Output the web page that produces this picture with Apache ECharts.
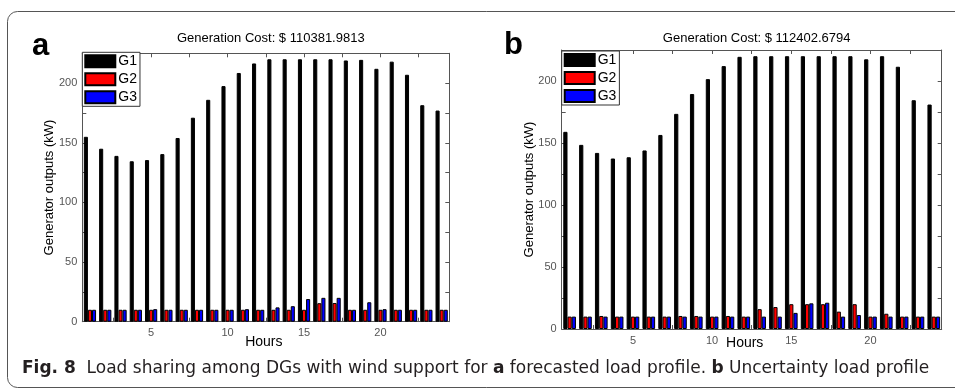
<!DOCTYPE html>
<html><head><meta charset="utf-8">
<script src="https://cdn.jsdelivr.net/npm/echarts@6/dist/echarts.min.js"></script>
<style>html,body{margin:0;padding:0;background:#fff}#c{width:955px;height:392px}</style>
</head><body><div id="c"></div>
<script>
// ---- data ----
const hours = ['1','2','3','4','5','6','7','8','9','10','11','12','13','14','15','16','17','18','19','20','21','22','23','24'];
const seriesNames = ['G1','G2','G3'];
const g1a = [155,145,139,134.5,135.5,140.5,154,171,186,197.5,208.5,216.5,220,220,220,220,220,219,219.5,212,218,207,181.5,177];
const g2a = [10,10,10,10,10,10,10,10,10,10,10,10,10,10,10,15.5,15.7,10,10,10,10,10,10,10];
const g3a = [10,10,10,10,10.5,10,10,10,10,10,10.5,10,12,13,19,20,20,10,16.3,10.5,10,10,10,10];
const g1b = [159,148.5,142,137.5,138.5,144,156.5,173.5,189.5,201.5,212,219.5,220,220,220,220,220,220,220,217.5,220,211.5,184.5,181];
const g2b = [10,10,10.5,10,10,10,10,10.5,10.5,10,10.5,10,16,17.7,20,20,20,14,20,10,12.3,10,10,10];
const g3b = [10,10,10,10,10,10,10,10,10,10,10,10,10,10,13,20.7,21.2,10,11.3,10,10,10,10,10];
const xTickLabels = [5,10,15,20];
const xTickMarks = [2.5,5,7.5,10,12.5,15,17.5,20,22.5];
const yTickLabels = [0,50,100,150,200];
const titleA = 'Generation Cost: $ 110381.9813';
const titleB = 'Generation Cost: $ 112402.6794';
const caption = 'Load sharing among DGs with wind support for';
const colors = ['#000000','#ff0000','#0000ff'];

const chart = echarts.init(document.getElementById('c'));
const grids = [
  {left:82.3, top:53.3, width:367, height:268.4, nameGap:13, nameX:-2, labelMargin:6},
  {left:561.7, top:50, width:380, height:279, nameGap:7, nameX:-7, labelMargin:6}
];
const AX = '#555';
const LBL = {color:'#555', fontSize:11, fontFamily:'Liberation Sans, Arial'};
let xAxis=[], yAxis=[], series=[], grid=[];
const dataSets = [[g1a,g2a,g3a],[g1b,g2b,g3b]];
grids.forEach((g,i)=>{
  grid.push({left:g.left, top:g.top, width:g.width, height:g.height, containLabel:false});
  // category axis for bars; carries only the axis name
  xAxis.push({type:'category', gridIndex:i, data:hours, boundaryGap:true, position:'bottom',
    name:'Hours', nameLocation:'middle', nameGap:g.nameGap, nameMoveOverlap:false,
    nameTextStyle:{color:'#000', fontSize:14, fontFamily:'Liberation Sans, Arial', padding:[0,0,0,g.nameX*2]},
    axisLine:{show:false}, axisTick:{show:false}, axisLabel:{show:false}, splitLine:{show:false}});
  xAxis.push({type:'value', gridIndex:i, min:0.5, max:24.5, position:'bottom',
    axisLine:{show:true, lineStyle:{color:AX, width:1}},
    axisTick:{show:true, inside:true, length:4, customValues:xTickMarks, lineStyle:{color:AX}},
    axisLabel:{show:true, customValues:xTickLabels, margin:g.labelMargin, ...LBL},
    splitLine:{show:false}});
  xAxis.push({type:'value', gridIndex:i, min:0.5, max:24.5, position:'top',
    axisLine:{show:true, lineStyle:{color:AX, width:1}},
    axisTick:{show:true, inside:true, length:4, customValues:xTickMarks, lineStyle:{color:AX}},
    axisLabel:{show:false}, splitLine:{show:false}});
  yAxis.push({type:'value', gridIndex:i, min:0, max:225, interval:25, position:'left',
    name:'Generator outputs (kW)', nameLocation:'middle', nameGap:26, nameRotate:90, nameMoveOverlap:false,
    nameTextStyle:{color:'#000', fontSize:13, fontFamily:'Liberation Sans, Arial'},
    axisLine:{show:true, lineStyle:{color:AX, width:1}},
    axisTick:{show:true, inside:true, length:4, lineStyle:{color:AX}},
    axisLabel:{show:true, margin:5, ...LBL, formatter:v=> yTickLabels.includes(v)?String(v):''},
    splitLine:{show:false}});
  yAxis.push({type:'value', gridIndex:i, min:0, max:225, interval:25, position:'right',
    axisLine:{show:true, lineStyle:{color:AX, width:1}},
    axisTick:{show:true, inside:true, length:4, lineStyle:{color:AX}},
    axisLabel:{show:false}, splitLine:{show:false}});
  dataSets[i].forEach((d,k)=>{
    series.push({type:'bar', name:seriesNames[k], xAxisIndex:i*3, yAxisIndex:i*2, data:d,
      barGap:'0%', barCategoryGap:'20%',
      itemStyle:{color:colors[k], borderColor:'#000', borderWidth:1},
      emphasis:{disabled:true}, silent:true, animation:false});
  });
});

const legendBase = {orient:'vertical', icon:'rect', itemWidth:30, itemHeight:12, itemGap:4,
  borderColor:'#333', borderWidth:1, backgroundColor:'#fff', padding:[2,3,2,2],
  textStyle:{color:'#000', fontSize:14, fontFamily:'Liberation Sans, Arial', padding:[0,0,0,-2]},
  data:seriesNames, selectedMode:false};

chart.setOption({
  animation:false,
  grid, xAxis, yAxis, series,
  legend:[Object.assign({}, legendBase, {left:82.3, top:52.3}),
          Object.assign({}, legendBase, {left:561.7, top:51})],
  title:[
    {text:titleA, left:265.8, top:27, textAlign:'center', textStyle:{fontSize:13, fontWeight:'normal', color:'#000', fontFamily:'Liberation Sans, Arial'}},
    {text:titleB, left:751.7, top:27, textAlign:'center', textStyle:{fontSize:13, fontWeight:'normal', color:'#000', fontFamily:'Liberation Sans, Arial'}}
  ],
  graphic:[
    {type:'rect', shape:{x:7.5, y:11.5, width:970, height:376, r:10}, style:{fill:'none', stroke:'#555', lineWidth:1}, silent:true, z:-1},
    {type:'text', left:32, top:31, style:{text:'a', font:'bold 31px "Liberation Sans", Arial', fill:'#000'}},
    {type:'text', left:504, top:30, style:{text:'b', font:'bold 31px "Liberation Sans", Arial', fill:'#000'}},
    {type:'text', left:22, top:360, style:{
      text:'{b|Fig. 8}  ' + caption + ' {b|a} forecasted load profile. {b|b} Uncertainty load profile',
      fontSize:17, fontFamily:'DejaVu Sans', fill:'#231f20',
      rich:{b:{fontWeight:'bold', fontSize:17, fontFamily:'DejaVu Sans', fill:'#231f20'}}
    }}
  ]
});
</script></body></html>
